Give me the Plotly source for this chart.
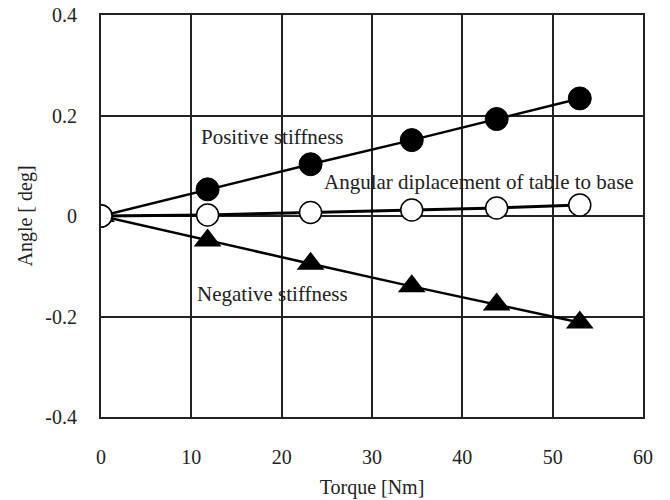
import plotly.graph_objects as go

# Torque steps [Nm]
torque = [0, 11.8, 23.2, 34.4, 43.8, 53.0]

# Angle responses [deg]
positive_stiffness = [0, 0.053, 0.103, 0.151, 0.193, 0.234]
negative_stiffness = [0, -0.049, -0.095, -0.140, -0.176, -0.212]
table_to_base = [0, 0.002, 0.007, 0.012, 0.016, 0.022]

x_ticks = [0, 10, 20, 30, 40, 50, 60]
y_ticks = [-0.4, -0.2, 0, 0.2, 0.4]
y_tick_text = ["-0.4", "-0.2", "0", "0.2", "0.4"]

FONT = "Liberation Serif"

fig = go.Figure()

fig.add_trace(go.Scatter(
    x=torque, y=negative_stiffness, mode="lines+markers",
    line=dict(color="black", width=2.5),
    marker=dict(symbol="triangle-up", size=24, color="black"),
    showlegend=False,
))
fig.add_trace(go.Scatter(
    x=torque, y=positive_stiffness, mode="lines+markers",
    line=dict(color="black", width=2.5),
    marker=dict(symbol="circle", size=23, color="black",
                line=dict(color="black", width=1)),
    showlegend=False,
))
fig.add_trace(go.Scatter(
    x=torque, y=table_to_base, mode="lines+markers",
    line=dict(color="black", width=3),
    marker=dict(symbol="circle", size=22, color="white",
                line=dict(color="black", width=1.5)),
    showlegend=False,
))

labels = [
    ("Positive stiffness", 10.84, 0.158),
    ("Angular diplacement of table to base", 24.5, 0.068),
    ("Negative stiffness", 10.4, -0.155),
]
for text, lx, ly in labels:
    fig.add_annotation(
        x=lx, y=ly, text=text, showarrow=False,
        xanchor="left", yanchor="middle",
        font=dict(family=FONT, size=21, color="#222"),
    )

fig.update_xaxes(
    range=[0, 60], tickvals=x_ticks, automargin=False,
    showgrid=True, gridcolor="#222", gridwidth=1.5,
    showline=True, linecolor="#222", linewidth=2, mirror=True,
    zeroline=False, ticks="", ticklabelstandoff=21,
    tickfont=dict(family=FONT, size=20, color="#222"),
    title=dict(text="Torque [Nm]", standoff=13,
               font=dict(family=FONT, size=20, color="#222")),
)
fig.update_yaxes(
    range=[-0.4, 0.4], tickvals=y_ticks, ticktext=y_tick_text,
    automargin=False,
    showgrid=True, gridcolor="#222", gridwidth=1.5,
    showline=True, linecolor="#222", linewidth=2, mirror=True,
    zeroline=False, ticks="", ticklabelstandoff=18,
    tickfont=dict(family=FONT, size=20, color="#222"),
    title=dict(text="Angle [ deg]", standoff=7,
               font=dict(family=FONT, size=20, color="#222")),
)

fig.update_layout(
    width=670, height=500,
    margin=dict(l=101, r=27, t=15, b=83),
    plot_bgcolor="white", paper_bgcolor="white",
)

fig.write_html("out.html")
